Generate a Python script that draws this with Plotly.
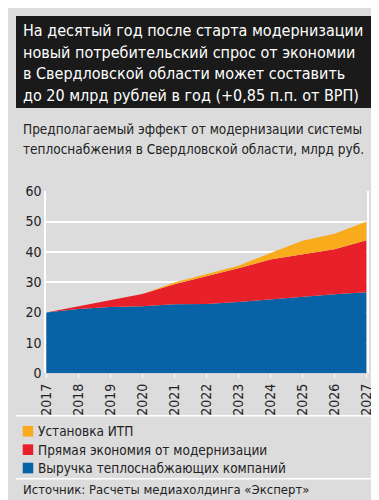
import plotly.graph_objects as go

years = [2017, 2018, 2019, 2020, 2021, 2022, 2023, 2024, 2025, 2026, 2027]
revenue = [20.0, 21.2, 21.8, 22.1, 22.7, 22.8, 23.5, 24.4, 25.2, 26.0, 26.7]
direct_savings = [0.0, 0.8, 2.4, 4.0, 6.6, 9.1, 11.1, 13.1, 14.1, 14.9, 17.1]
itp_install = [0.0, 0.0, 0.0, 0.0, 0.6, 0.8, 0.8, 2.1, 4.4, 5.1, 6.2]

series_names = ["Выручка теплоснабжающих компаний", "Прямая экономия от модернизации", "Установка ИТП"]
series_colors = ["#0863a6", "#e8202a", "#f9ab1c"]
y_ticks = [0, 10, 20, 30, 40, 50, 60]

title_lines = [
    "На десятый год после старта модернизации",
    "новый потребительский спрос от экономии",
    "в Свердловской области может составить",
    "до 20 млрд рублей в год (+0,85 п.п. от ВРП)",
]
subtitle_lines = [
    "Предполагаемый эффект от модернизации системы",
    "теплоснабжения в Свердловской области, млрд руб.",
]
source_text = "Источник: Расчеты медиахолдинга «Эксперт»"

FONT = "DejaVu Sans Condensed"
W, H = 379, 500
BG = "#dcdcdd"

fig = go.Figure()
for name, vals, col in zip(series_names, [revenue, direct_savings, itp_install], series_colors):
    fig.add_trace(go.Scatter(
        x=years, y=vals, name=name, mode="lines", stackgroup="one",
        line=dict(width=0, color=col), fillcolor=col, showlegend=False,
    ))

def px_x(x):
    return x / W

def px_y(y):
    return 1 - y / H

shapes = [
    dict(type="rect", xref="paper", yref="paper", x0=0, x1=1, y0=px_y(95), y1=1,
         fillcolor="#1a1a1a", line=dict(width=0), layer="below"),
    dict(type="line", xref="paper", yref="paper", x0=0, x1=1, y0=px_y(413), y1=px_y(413),
         line=dict(color="white", width=1.5)),
    dict(type="line", xref="paper", yref="paper", x0=0, x1=1, y0=px_y(478), y1=px_y(478),
         line=dict(color="white", width=1.5)),
]
annotations = []
for i, t in enumerate(title_lines):
    annotations.append(dict(text=t, xref="paper", yref="paper", x=px_x(5), y=px_y(15 + 22.3 * i),
                            xanchor="left", yanchor="middle", showarrow=False,
                            font=dict(family=FONT, size=16, color="white")))
for i, t in enumerate(subtitle_lines):
    annotations.append(dict(text=t, xref="paper", yref="paper", x=px_x(5), y=px_y(117 + 20 * i),
                            xanchor="left", yanchor="middle", showarrow=False,
                            font=dict(family=FONT, size=13.5, color="#222222")))
legend_rows = [(2, 429), (1, 448), (0, 467)]
for idx, yy in legend_rows:
    shapes.append(dict(type="rect", xref="paper", yref="paper",
                       x0=px_x(7), x1=px_x(18), y0=px_y(yy + 5.5), y1=px_y(yy - 5.5),
                       fillcolor=series_colors[idx], line=dict(width=0)))
    annotations.append(dict(text=series_names[idx], xref="paper", yref="paper", x=px_x(21), y=px_y(yy),
                            xanchor="left", yanchor="middle", showarrow=False,
                            font=dict(family=FONT, size=13.5, color="#222222")))
annotations.append(dict(text=source_text, xref="paper", yref="paper", x=px_x(5), y=px_y(489),
                        xanchor="left", yanchor="middle", showarrow=False,
                        font=dict(family=FONT, size=13, color="#222222")))

fig.update_layout(
    width=W, height=H, margin=dict(l=0, r=0, t=0, b=0),
    paper_bgcolor=BG, plot_bgcolor=BG,
    shapes=shapes, annotations=annotations, showlegend=False,
    xaxis=dict(domain=[31.5 / W, 366 / W], range=[2017, 2027], tickvals=years,
               ticktext=[str(y) for y in years], tickangle=-90, showgrid=False, zeroline=False,
               ticks="outside", ticklen=4, tickcolor="white", tickwidth=1,
               tickfont=dict(family=FONT, size=14, color="#222222")),
    yaxis=dict(domain=[px_y(369), px_y(181)], range=[0, 60], tickvals=y_ticks,
               showgrid=True, gridcolor="white", gridwidth=1.5, zeroline=False,
               showline=True, mirror=True, linecolor="white", linewidth=1.5,
               ticks="", tickfont=dict(family=FONT, size=14, color="#222222")),
)

fig.write_html("out.html")
